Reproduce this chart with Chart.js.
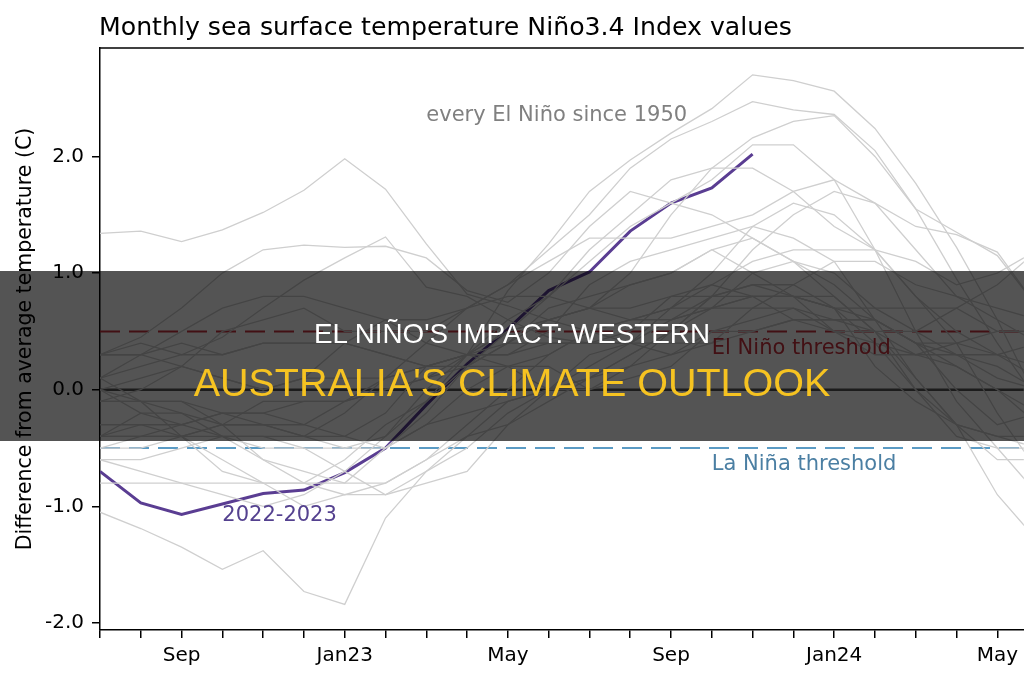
<!DOCTYPE html>
<html>
<head>
<meta charset="utf-8">
<script src="https://cdn.jsdelivr.net/npm/chart.js@4.4.0/dist/chart.umd.min.js"></script>
<style>
  html, body { margin: 0; padding: 0; background: #fff; }
  #wrap { position: relative; width: 1024px; height: 680px; overflow: hidden; }
  #banner { position: absolute; left: 0; top: 271px; width: 1024px; height: 170px; background: rgba(0, 0, 0, 0.67); }
  .line1, .line2 { position: absolute; left: 0; width: 100%; text-align: center; line-height: 1;
    font-family: "Liberation Sans", Arial, sans-serif; white-space: nowrap; }
  .line1 { top: 49px; font-size: 27.8px; color: #ffffff; }
  .line2 { top: 92px; font-size: 39.5px; color: #f6c321; }
</style>
</head>
<body>
<div id="wrap">
  <canvas id="ninoChart" width="1024" height="680"></canvas>
  <div id="banner">
    <div class="line1">EL NIÑO'S IMPACT: WESTERN</div>
    <div class="line2">AUSTRALIA'S CLIMATE OUTLOOK</div>
  </div>
</div>
<script>
// months from Jul of the year before each event (Jul22 ... May24)
const monthLabels = ['', '', 'Sep', '', '', '', 'Jan23', '', '', '', 'May', '',
                     '', '', 'Sep', '', '', '', 'Jan24', '', '', '', 'May'];
const yTicks = [-2, -1, 0, 1, 2];
const xMax = 22.65;

// 2022-2023, Jul 2022 .. Nov 2023
const season2223 = [-0.70, -0.97, -1.07, -0.98, -0.89, -0.86, -0.71, -0.50, -0.13, 0.22, 0.52, 0.85,
                    1.01, 1.36, 1.60, 1.73, 2.02];

// every El Nino since 1950, Jul (year-1) .. Jun (year+1)
const nino1951 = [-0.5, -0.4, -0.4, -0.6, -0.8, -0.8, -0.8, -0.5, -0.2, 0.2, 0.4, 0.6, 0.7, 0.9, 1.0, 1.2, 1.0, 0.8, 0.5, 0.4, 0.3, 0.3, 0.2, 0.0];
const nino1953 = [-0.1, 0.0, 0.2, 0.1, 0.0, 0.1, 0.4, 0.6, 0.6, 0.7, 0.8, 0.8, 0.7, 0.7, 0.8, 0.8, 0.8, 0.8, 0.8, 0.5, 0.0, -0.4, -0.5, -0.5];
const nino1957 = [-0.6, -0.6, -0.5, -0.4, -0.4, -0.4, -0.2, 0.1, 0.4, 0.7, 0.9, 1.1, 1.3, 1.3, 1.3, 1.4, 1.5, 1.7, 1.8, 1.6, 1.2, 0.8, 0.7, 0.6];
const nino1958 = [1.34, 1.36, 1.27, 1.37, 1.52, 1.71, 1.98, 1.72, 1.25, 0.82, 0.72, 0.6, 0.5, 0.4, 0.4, 0.4, 0.5, 0.6, 0.6, 0.6, 0.4, 0.2, 0.0, -0.2];
const nino1963 = [0.0, -0.1, -0.1, -0.2, -0.3, -0.4, -0.4, -0.2, 0.2, 0.3, 0.3, 0.5, 0.9, 1.1, 1.2, 1.3, 1.4, 1.3, 1.1, 0.6, 0.1, -0.3, -0.6, -0.6];
const nino1965 = [-0.6, -0.7, -0.8, -0.8, -0.8, -0.8, -0.6, -0.3, -0.1, 0.2, 0.5, 0.8, 1.2, 1.5, 1.8, 1.9, 1.9, 1.7, 1.4, 1.2, 0.8, 0.5, 0.3, 0.2];
const nino1968 = [0.0, -0.2, -0.3, -0.4, -0.4, -0.5, -0.7, -0.9, -0.8, -0.7, -0.3, 0.0, 0.3, 0.4, 0.3, 0.4, 0.7, 0.9, 1.1, 1.1, 0.9, 0.8, 0.6, 0.4];
const nino1969 = [0.3, 0.4, 0.3, 0.45, 0.7, 0.94, 1.13, 1.31, 0.88, 0.8, 0.6, 0.45, 0.4, 0.5, 0.8, 0.9, 0.8, 0.6, 0.5, 0.3, 0.3, 0.2, 0.0, -0.3];
const nino1972 = [-0.8, -0.8, -0.8, -0.9, -1.0, -0.9, -0.7, -0.4, 0.0, 0.3, 0.6, 0.8, 1.1, 1.4, 1.6, 1.8, 2.1, 2.1, 1.8, 1.2, 0.5, -0.1, -0.5, -0.9];
const nino1976 = [-1.05, -1.19, -1.35, -1.54, -1.38, -1.73, -1.84, -1.1, -0.7, -0.4, -0.3, -0.1, 0.1, 0.3, 0.5, 0.7, 0.8, 0.8, 0.7, 0.6, 0.4, 0.3, 0.3, 0.4];
const nino1977 = [0.1, 0.3, 0.5, 0.7, 0.8, 0.8, 0.7, 0.6, 0.4, 0.3, 0.3, 0.4, 0.4, 0.4, 0.6, 0.7, 0.8, 0.8, 0.7, 0.4, 0.0, -0.3, -0.4, -0.4];
const nino1979 = [-0.4, -0.4, -0.4, -0.3, -0.1, -0.1, -0.1, 0.1, 0.2, 0.3, 0.2, 0.0, 0.0, 0.2, 0.3, 0.5, 0.5, 0.6, 0.6, 0.5, 0.3, 0.4, 0.5, 0.5];
const nino1982 = [-0.4, -0.4, -0.3, -0.2, -0.2, -0.1, -0.1, 0.0, 0.1, 0.3, 0.5, 0.6, 0.7, 1.0, 1.5, 1.9, 2.16, 2.3, 2.35, 2.0, 1.55, 1.35, 1.15, 0.7];
const nino1986 = [-0.5, -0.5, -0.4, -0.3, -0.3, -0.4, -0.5, -0.5, -0.3, -0.2, -0.1, 0.0, 0.2, 0.4, 0.7, 0.9, 1.1, 1.2, 1.2, 1.2, 1.1, 0.9, 1.0, 1.2];
const nino1987 = [0.3, 0.45, 0.7, 1.0, 1.2, 1.24, 1.22, 1.23, 1.13, 0.85, 0.75, 1.0, 1.4, 1.7, 1.6, 1.5, 1.3, 1.1, 0.8, 0.5, 0.1, -0.3, -0.9, -1.3];
const nino1991 = [0.3, 0.3, 0.4, 0.3, 0.4, 0.4, 0.4, 0.3, 0.2, 0.3, 0.5, 0.6, 0.7, 0.6, 0.6, 0.8, 1.2, 1.5, 1.7, 1.6, 1.4, 1.33, 1.18, 0.7];
const nino1994 = [0.3, 0.3, 0.2, 0.1, 0.0, 0.1, 0.1, 0.1, 0.2, 0.3, 0.4, 0.4, 0.4, 0.4, 0.6, 0.7, 1.0, 1.1, 1.0, 0.7, 0.5, 0.3, 0.1, 0.0];
const nino1997 = [-0.3, -0.3, -0.4, -0.4, -0.5, -0.5, -0.5, -0.4, -0.1, 0.3, 0.85, 1.25, 1.7, 1.97, 2.2, 2.41, 2.7, 2.65, 2.56, 2.24, 1.77, 1.22, 0.6, -0.1];
const nino2002 = [-0.1, -0.1, -0.2, -0.3, -0.3, -0.3, -0.1, 0.0, 0.1, 0.2, 0.4, 0.7, 0.8, 0.9, 1.0, 1.2, 1.3, 1.1, 0.9, 0.6, 0.4, 0.0, -0.3, -0.2];
const nino2004 = [0.1, 0.2, 0.3, 0.3, 0.4, 0.4, 0.4, 0.3, 0.2, 0.2, 0.2, 0.3, 0.5, 0.6, 0.7, 0.7, 0.7, 0.7, 0.6, 0.6, 0.4, 0.4, 0.3, 0.1];
const nino2006 = [-0.1, -0.1, -0.1, -0.3, -0.6, -0.8, -0.9, -0.8, -0.6, -0.4, -0.1, 0.0, 0.1, 0.3, 0.5, 0.8, 0.9, 0.9, 0.7, 0.2, -0.1, -0.3, -0.4, -0.5];
const nino2009 = [-0.4, -0.2, -0.2, -0.4, -0.6, -0.7, -0.8, -0.8, -0.6, -0.3, 0.0, 0.3, 0.5, 0.6, 0.7, 1.0, 1.4, 1.6, 1.5, 1.2, 0.8, 0.4, -0.2, -0.7];
const nino2014 = [-0.4, -0.3, -0.3, -0.2, -0.2, -0.3, -0.4, -0.5, -0.3, 0.0, 0.2, 0.2, 0.0, 0.1, 0.2, 0.5, 0.6, 0.7, 0.5, 0.5, 0.5, 0.7, 0.9, 1.2];
const nino2015 = [0.0, 0.1, 0.2, 0.5, 0.6, 0.7, 0.5, 0.5, 0.5, 0.7, 0.9, 1.2, 1.5, 1.9, 2.15, 2.3, 2.47, 2.4, 2.36, 2.05, 1.55, 0.95, 0.4, -0.1];
const nino2018 = [0.1, -0.1, -0.4, -0.7, -0.8, -1.0, -0.9, -0.9, -0.7, -0.5, -0.2, 0.0, 0.1, 0.2, 0.5, 0.8, 0.9, 0.8, 0.7, 0.7, 0.7, 0.7, 0.5, 0.5];

const pastEvents = [nino1951, nino1953, nino1957, nino1958, nino1963, nino1965, nino1968, nino1969,
                    nino1972, nino1976, nino1977, nino1979, nino1982, nino1986, nino1987, nino1991,
                    nino1994, nino1997, nino2002, nino2004, nino2006, nino2009, nino2014, nino2015, nino2018];

const elNinoThreshold = 0.5;
const laNinaThreshold = -0.5;

const toPoints = vals => vals.map((v, i) => ({ x: i, y: v }));
const flat = v => [{ x: 0, y: v }, { x: xMax, y: v }];

Chart.defaults.font.family = '"DejaVu Sans", sans-serif';
Chart.defaults.color = '#000';

const datasets = pastEvents.map(vals => ({
    data: toPoints(vals),
    borderColor: '#cfcfcf',
    borderWidth: 1.3
}));
datasets.push({ data: flat(0), borderColor: '#555', borderWidth: 2.5 });
datasets.push({ data: flat(elNinoThreshold), borderColor: '#c8323e', borderWidth: 2, borderDash: [20, 9] });
datasets.push({ data: flat(laNinaThreshold), borderColor: '#5b9bc4', borderWidth: 2, borderDash: [20, 9] });
datasets.push({ data: toPoints(season2223), borderColor: '#5a3d92', borderWidth: 3 });

// text notes placed in data coordinates
const notes = [
    { text: 'every El Niño since 1950', x: 8.0, y: 2.35, color: '#808080' },
    { text: 'El Niño threshold', x: 15.0, y: 0.35, color: '#c8323e' },
    { text: 'La Niña threshold', x: 15.0, y: -0.64, color: '#4b7fa3' },
    { text: '2022-2023', x: 3.0, y: -1.08, color: '#54418f' }
];

const decorations = {
    id: 'decorations',
    afterDatasetsDraw(chart) {
        const { ctx, chartArea, scales: { x, y } } = chart;
        ctx.save();
        // top frame line
        ctx.strokeStyle = '#000';
        ctx.lineWidth = 1.5;
        ctx.beginPath();
        ctx.moveTo(chartArea.left, chartArea.top);
        ctx.lineTo(chartArea.right, chartArea.top);
        ctx.stroke();

        ctx.font = '21px "DejaVu Sans"';
        ctx.textBaseline = 'middle';
        ctx.textAlign = 'left';
        notes.forEach(n => {
            ctx.fillStyle = n.color;
            ctx.fillText(n.text, x.getPixelForValue(n.x), y.getPixelForValue(n.y));
        });

        // title
        ctx.fillStyle = '#000';
        ctx.font = '25.2px "DejaVu Sans"';
        ctx.textBaseline = 'alphabetic';
        ctx.fillText('Monthly sea surface temperature Niño3.4 Index values', 99, 35);
        ctx.restore();
    }
};

const ctx = document.getElementById('ninoChart').getContext('2d');
const ninoChart = new Chart(ctx, {
    type: 'line',
    data: { datasets: datasets },
    plugins: [decorations],
    options: {
        responsive: false,
        animation: false,
        devicePixelRatio: 1,
        layout: { padding: { top: 48, left: 0, right: 0, bottom: 0 } },
        elements: { point: { radius: 0 }, line: { tension: 0 } },
        plugins: {
            legend: { display: false },
            tooltip: { enabled: false }
        },
        scales: {
            x: {
                type: 'linear',
                min: 0,
                max: xMax,
                afterBuildTicks: s => { s.ticks = monthLabels.map((_, i) => ({ value: i })); },
                afterFit: s => { s.height = 50; },
                grid: { drawOnChartArea: false, drawTicks: true, tickLength: 8, color: '#000', lineWidth: 1.5 },
                border: { display: true, color: '#000', width: 1.5 },
                ticks: {
                    autoSkip: false,
                    maxRotation: 0,
                    padding: 6,
                    font: { size: 20 },
                    color: '#000',
                    callback: value => monthLabels[value]
                }
            },
            y: {
                type: 'linear',
                min: -2.06,
                max: 2.93,
                afterBuildTicks: s => { s.ticks = yTicks.map(v => ({ value: v })); },
                afterFit: s => { s.width = 100; },
                grid: { drawOnChartArea: false, drawTicks: true, tickLength: 8, color: '#000', lineWidth: 1.5 },
                border: { display: true, color: '#000', width: 1.5 },
                title: {
                    display: true,
                    text: 'Difference from average temperature (C)',
                    font: { size: 20.5 },
                    color: '#000',
                    padding: { top: 13, bottom: 0 }
                },
                ticks: {
                    padding: 8,
                    font: { size: 20 },
                    color: '#000',
                    callback: v => v.toFixed(1)
                }
            }
        }
    }
});
</script>
</body>
</html>
